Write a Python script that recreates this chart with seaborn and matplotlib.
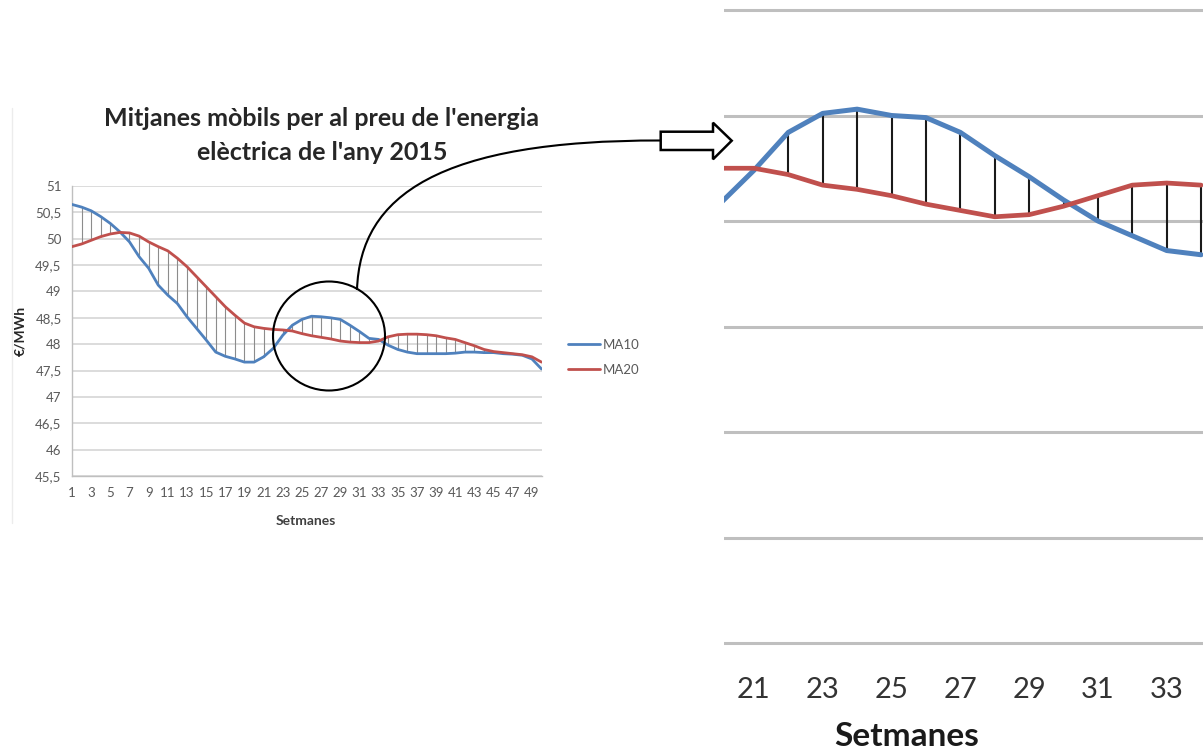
import numpy as np
import pandas as pd
import matplotlib
matplotlib.use("Agg")
import matplotlib.pyplot as plt
import seaborn as sns
from matplotlib.patches import Ellipse, Polygon, PathPatch
from matplotlib.path import Path
from matplotlib.lines import Line2D

# ---- data: weekly moving averages of the 2015 electricity price (EUR/MWh) ----
weeks = list(range(1, 51))
ma10 = [50.65, 50.60, 50.53, 50.42, 50.29, 50.13, 49.94, 49.66, 49.44, 49.12,
        48.93, 48.77, 48.52, 48.30, 48.08, 47.85, 47.77, 47.72, 47.66, 47.66,
        47.76, 47.92, 48.17, 48.36, 48.47, 48.53, 48.52, 48.50, 48.47, 48.36,
        48.24, 48.11, 48.09, 47.98, 47.90, 47.85, 47.82, 47.82, 47.82, 47.82,
        47.83, 47.85, 47.85, 47.84, 47.84, 47.82, 47.81, 47.79, 47.72, 47.53]
ma20 = [49.85, 49.90, 49.97, 50.04, 50.09, 50.12, 50.11, 50.05, 49.94, 49.85,
        49.77, 49.63, 49.47, 49.28, 49.09, 48.90, 48.71, 48.55, 48.40, 48.33,
        48.30, 48.28, 48.27, 48.25, 48.20, 48.16, 48.13, 48.10, 48.06, 48.04,
        48.03, 48.03, 48.06, 48.14, 48.18, 48.19, 48.19, 48.18, 48.16, 48.12,
        48.09, 48.03, 47.97, 47.90, 47.86, 47.84, 47.82, 47.80, 47.76, 47.66]

# detail view of the crossing zone
detail_weeks = list(range(20, 35))
detail_ma10 = [48.08, 48.24, 48.42, 48.51, 48.53, 48.50, 48.49, 48.42,
               48.31, 48.21, 48.10, 48.00, 47.93, 47.86, 47.84]
detail_ma20 = [48.25, 48.25, 48.22, 48.17, 48.15, 48.12, 48.08, 48.05,
               48.02, 48.03, 48.07, 48.12, 48.17, 48.18, 48.17]

title_lines = ["Mitjanes mòbils per al preu de l'energia", "elèctrica de l'any 2015"]
series_names = ["MA10", "MA20"]
x_title = "Setmanes"
y_title = "€/MWh"

df = pd.DataFrame({"Setmana": weeks, "MA10": ma10, "MA20": ma20})
dd = pd.DataFrame({"Setmana": detail_weeks, "MA10": detail_ma10, "MA20": detail_ma20})

sns.set_theme(style="white")
plt.rcParams["font.family"] = ["Lato", "DejaVu Sans"]

BLUE = "#4F81BD"
RED = "#C0504D"
GRID = "#d9d9d9"
LABEL = "#595959"

W, H = 1203, 749
fig = plt.figure(figsize=(W / 100, H / 100), dpi=100)
fig.patch.set_facecolor("white")


def px_axes(left, top, right, bottom, **kw):
    return fig.add_axes([left / W, 1 - bottom / H, (right - left) / W, (bottom - top) / H], **kw)


def comma(v):
    s = f"{v:g}"
    return s.replace(".", ",")


# ---- main chart ----
ax = px_axes(72, 186, 541.5, 476)
ax.vlines(df["Setmana"], df["MA10"], df["MA20"], color="#8c8c8c", lw=0.8, zorder=2)
sns.lineplot(data=df, x="Setmana", y="MA10", ax=ax, color=BLUE, lw=2.0, zorder=3)
sns.lineplot(data=df, x="Setmana", y="MA20", ax=ax, color=RED, lw=2.0, zorder=3)
ax.set_xlim(1, 50)
ax.set_ylim(45.5, 51)
yt = np.arange(45.5, 51.01, 0.5)
ax.set_yticks(yt)
ax.set_yticklabels([comma(v) for v in yt])
xt = list(range(1, 50, 2))
ax.set_xticks(xt)
ax.set_xticklabels([str(v) for v in xt])
ax.grid(axis="y", color=GRID, lw=1.3)
ax.set_axisbelow(True)
for side in ["top", "right"]:
    ax.spines[side].set_visible(False)
for side in ["left", "bottom"]:
    ax.spines[side].set_color("#bfbfbf")
    ax.spines[side].set_linewidth(1.0)
ax.tick_params(axis="y", length=2.5, width=1, color="#bfbfbf", pad=5, labelsize=9.5, labelcolor=LABEL)
ax.tick_params(axis="x", length=0, pad=8, labelsize=9.5, labelcolor=LABEL)
ax.set_xlabel("")
ax.set_ylabel("")
ax.legend(handles=[Line2D([], [], color=BLUE, lw=2.0), Line2D([], [], color=RED, lw=2.0)],
          labels=series_names, loc="center left",
          bbox_to_anchor=(568 / W, 1 - 357.5 / H), bbox_transform=fig.transFigure,
          frameon=False, fontsize=9.5, labelcolor=LABEL, handlelength=2.4,
          handletextpad=0.25, labelspacing=1.0, borderaxespad=0, borderpad=0)

# ---- detail panel ----
ppu = 211.0  # pixels per EUR/MWh in the detail panel
ax2 = px_axes(724, 0, 1203, 646)
ax2.vlines(dd["Setmana"], dd["MA10"], dd["MA20"], color="#1a1a1a", lw=1.5, zorder=2)
sns.lineplot(data=dd, x="Setmana", y="MA10", ax=ax2, color=BLUE, lw=3.6, zorder=3)
sns.lineplot(data=dd, x="Setmana", y="MA20", ax=ax2, color=RED, lw=3.4, zorder=3)
ax2.set_ylim(49 - 636 / ppu, 49 + 10 / ppu)
ax2.set_xlim(20 + (724 - 719.5) / 34.4, 20 + (1203 - 719.5) / 34.4)
ax2.set_yticks(np.arange(46, 49.01, 0.5))
ax2.set_yticklabels([])
dt = list(range(21, 34, 2))
ax2.set_xticks(dt)
ax2.set_xticklabels([str(v) for v in dt])
ax2.grid(axis="y", color="#bfbfbf", lw=2.2)
ax2.grid(axis="x", visible=False)
ax2.set_axisbelow(True)
for s in ax2.spines.values():
    s.set_visible(False)
ax2.tick_params(axis="y", length=0)
ax2.tick_params(axis="x", length=0, pad=22, labelsize=21, labelcolor="#333333")
ax2.set_xlabel("")
ax2.set_ylabel("")

# ---- overlay: titles, magnifier circle, connector and arrow ----
ov = fig.add_axes([0, 0, 1, 1], zorder=10)
ov.set_xlim(0, W)
ov.set_ylim(H, 0)
ov.axis("off")
ov.patch.set_alpha(0)

ov.plot([12, 12], [108, 523], color="#ececec", lw=1)
ov.text(322, 118, title_lines[0], ha="center", va="center", fontsize=18,
        fontweight="bold", color="#262626")
ov.text(322, 152, title_lines[1], ha="center", va="center", fontsize=18,
        fontweight="bold", color="#262626")
ov.text(306, 521, x_title, ha="center", va="center", fontsize=10,
        fontweight="bold", color="#404040")
ov.text(20, 331, y_title, ha="center", va="center", fontsize=10,
        fontweight="bold", color="#262626", rotation=90)
ov.text(907, 736, x_title, ha="center", va="center", fontsize=24,
        fontweight="bold", color="#1a1a1a")

ov.add_patch(Ellipse((329, 336), 112, 109, fill=False, ec="black", lw=1.5))
curve = Path([(357, 290), (360, 195), (440, 140), (661, 140.5)],
             [Path.MOVETO, Path.CURVE4, Path.CURVE4, Path.CURVE4])
ov.add_patch(PathPatch(curve, fill=False, ec="black", lw=1.5))
arrow = [(660.7, 131.7), (713, 131.7), (713, 122.7), (731.7, 140.7),
         (713, 159.3), (713, 150), (660.7, 150)]
ov.add_patch(Polygon(arrow, closed=True, fc="white", ec="black", lw=1.8, joinstyle="miter"))

fig.savefig("out.png", dpi=100, facecolor="white")
